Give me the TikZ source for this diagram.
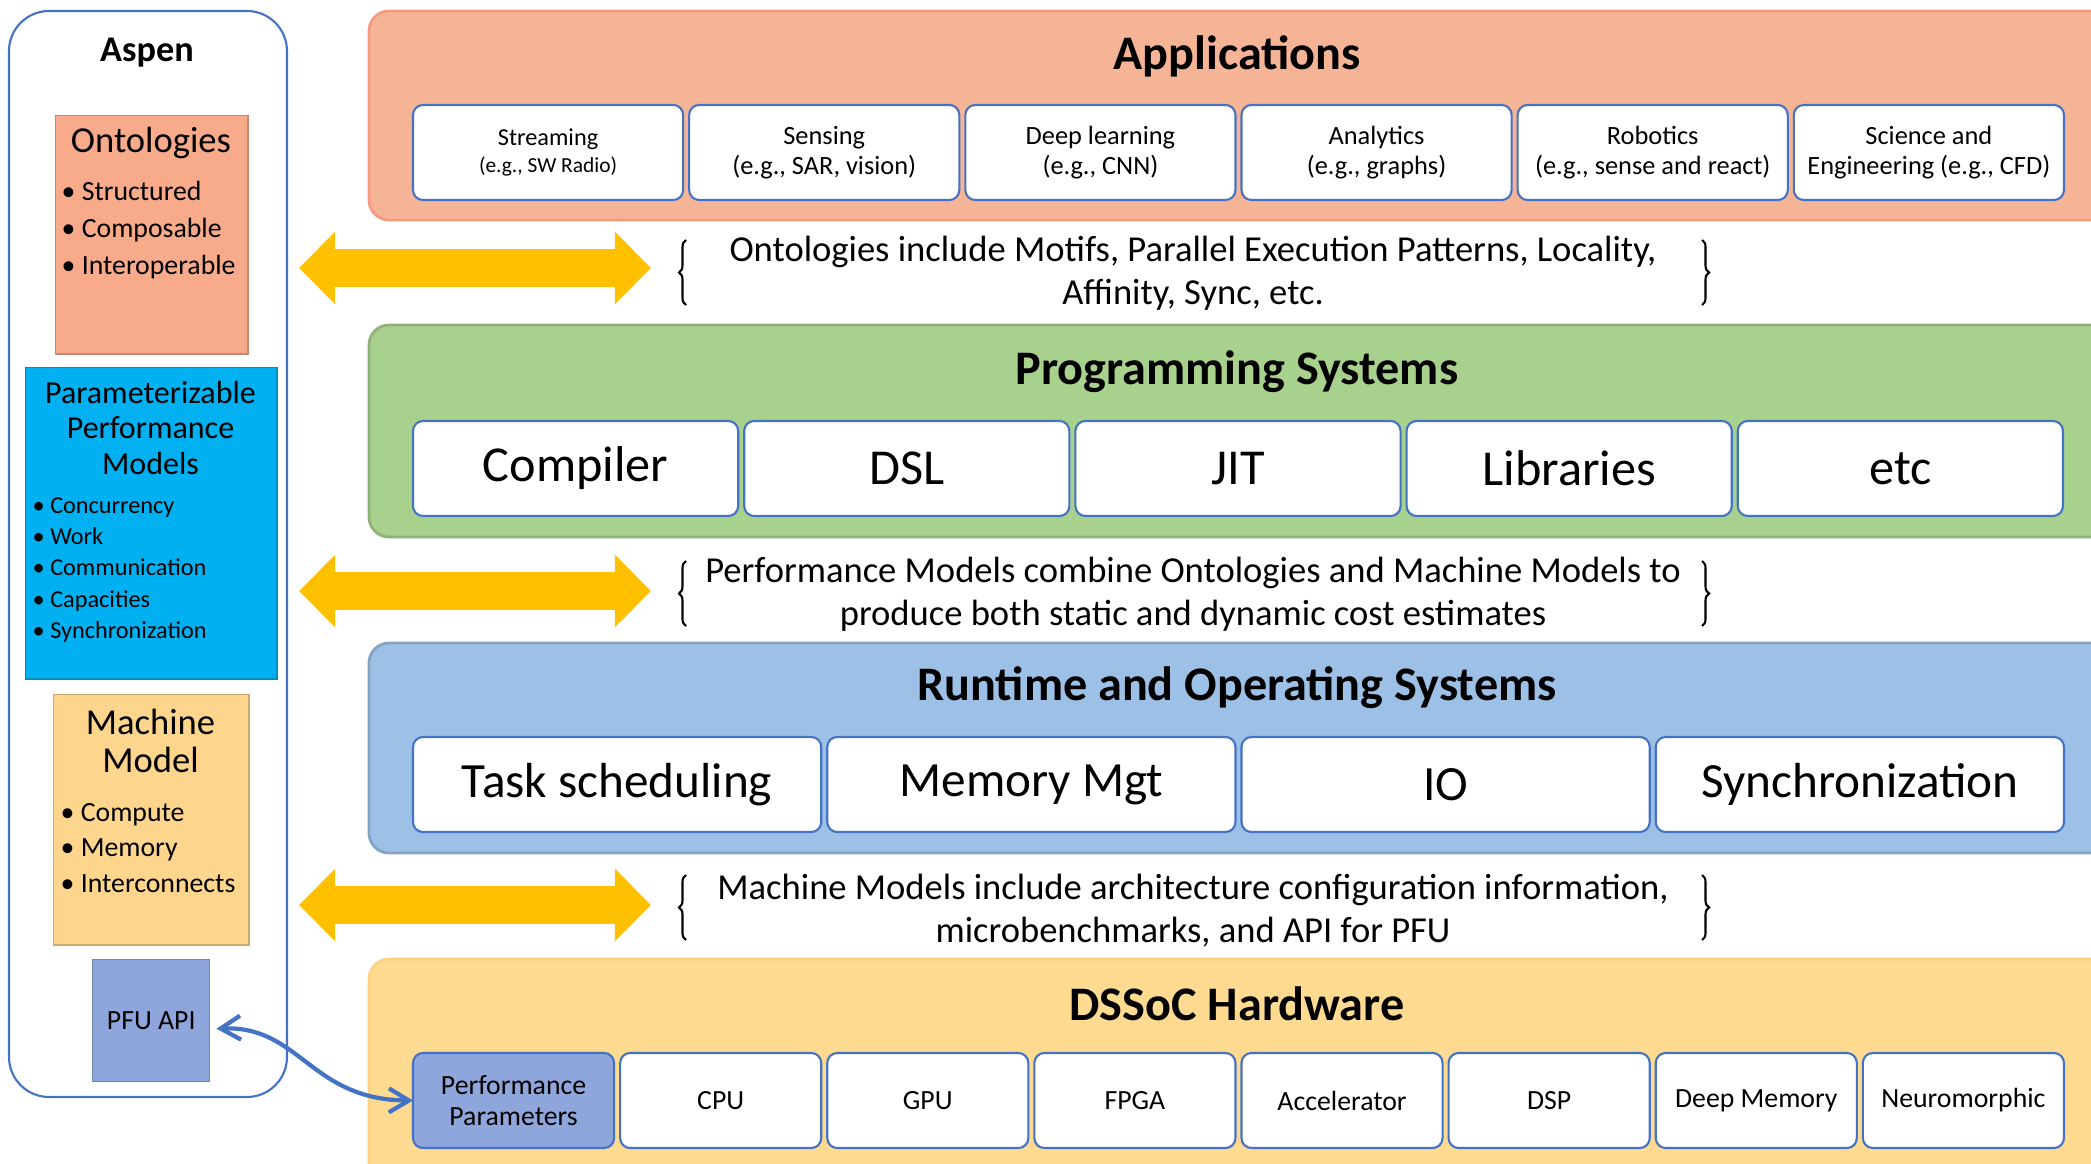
\documentclass[tikz,border=0pt]{standalone}
\usepackage{fontspec}
\setmainfont{Carlito}
\usetikzlibrary{positioning,arrows.meta,decorations.pathreplacing}
\definecolor{lineblue}{RGB}{68,114,196}
\definecolor{appfill}{RGB}{246,180,150}
\definecolor{ontofill}{RGB}{247,171,139}
\definecolor{progfill}{RGB}{169,209,142}
\definecolor{runfill}{RGB}{157,193,230}
\definecolor{hwfill}{RGB}{255,218,145}
\definecolor{paramfill}{RGB}{0,176,240}
\definecolor{machfill}{RGB}{254,213,140}
\definecolor{pfufill}{RGB}{143,166,220}
\definecolor{gold}{RGB}{255,192,0}

\begin{document}
\begin{tikzpicture}[x=0.01cm, y=-0.01cm,
    box/.style = {draw=lineblue, fill=white, rounded corners=0.1cm, line width=0.6pt, outer sep=0pt, minimum height=0.95cm, inner sep=1pt, align=center},
    appbox/.style = {box, minimum width=2.70cm, font=\fontsize{7.5}{8.6}\selectfont},
    progbox/.style = {box, minimum width=3.25cm, font=\fontsize{14.3}{16}\selectfont},
    runbox/.style = {box, minimum width=4.08cm, font=\fontsize{14}{16}\selectfont},
    hwbox/.style = {box, minimum width=2.01cm, font=\fontsize{7.9}{8.8}\selectfont},
    layer/.style = {rounded corners=0.2cm, line width=0.8pt},
    heading/.style = {font=\fontsize{13.7}{16}\selectfont\bfseries},
    note/.style = {align=center, font=\fontsize{10.4}{12.2}\selectfont},
    sidebox/.style = {anchor=north west, inner sep=0pt, line width=0.4pt},
    sidetitle/.style = {align=center, font=\fontsize{10.4}{10.8}\selectfont},
    bullets/.style = {anchor=west, align=left, inner sep=0pt},
    bigarrow/.style = {draw=gold, line width=0.37cm, {Triangle[width=0.70cm,length=0.36cm]}-{Triangle[width=0.70cm,length=0.36cm]}},
    curly/.style = {decorate, decoration={brace, amplitude=0.07cm}, line width=0.6pt},
    link/.style = {draw=lineblue, line width=1.2pt, {Straight Barb[length=0.2cm,width=0.24cm]}-{Straight Barb[length=0.2cm,width=0.24cm]}}]
    \useasboundingbox (0,0) rectangle (2091,1164);
    \clip (0,0) rectangle (2091,1164);
    \fill[white] (0,0) rectangle (2091,1164);

    \draw[layer, fill=appfill, draw=appfill!85!red] (369,11) rectangle (2140,220);
    \draw[layer, fill=progfill, draw=progfill!85!black] (369,325) rectangle (2140,537);
    \draw[layer, fill=runfill, draw=runfill!85!black] (369,643) rectangle (2140,853);
    \draw[layer, fill=hwfill, draw=hwfill!90!orange] (369,959) rectangle (2140,1200);

    \node[heading] (apptitle) at (1237,56) {Applications};
    \node[heading] (progtitle) at (1237,372) {Programming Systems};
    \node[heading] (runtitle) at (1237,688) {Runtime and Operating Systems};
    \node[heading] (hwtitle) at (1237,1004) {DSSoC Hardware};

    \node[appbox, anchor=west, font=\fontsize{6.9}{7.6}\selectfont] (strm) at (413,152.5) {Streaming\\{\fontsize{6.1}{7}\selectfont(e.g., SW Radio)}};
    \node[appbox] (sens) [right=0.06cm of strm] {Sensing\\(e.g., SAR, vision)};
    \node[appbox] (deep) [right=0.06cm of sens] {Deep learning\\(e.g., CNN)};
    \node[appbox] (anly) [right=0.06cm of deep] {Analytics\\(e.g., graphs)};
    \node[appbox] (robo) [right=0.06cm of anly] {Robotics\\(e.g., sense and react)};
    \node[appbox] (sci) [right=0.06cm of robo] {Science and\\Engineering (e.g., CFD)};

    \node[progbox, anchor=west] (comp) at (413,468.5) {Compiler};
    \node[progbox] (dsl) [right=0.06cm of comp] {DSL};
    \node[progbox] (jit) [right=0.06cm of dsl] {JIT};
    \node[progbox] (libs) [right=0.06cm of jit] {Libraries};
    \node[progbox] (etc) [right=0.06cm of libs] {etc};

    \node[runbox, anchor=west] (task) at (413,784.5) {Task scheduling};
    \node[runbox] (mem) [right=0.06cm of task] {Memory Mgt};
    \node[runbox] (io) [right=0.06cm of mem] {IO};
    \node[runbox] (sync) [right=0.06cm of io] {Synchronization};

    \node[hwbox, anchor=west, fill=pfufill] (perf) at (413,1100.5) {Performance\\Parameters};
    \node[hwbox] (cpu) [right=0.06cm of perf] {CPU};
    \node[hwbox] (gpu) [right=0.06cm of cpu] {GPU};
    \node[hwbox] (fpga) [right=0.06cm of gpu] {FPGA};
    \node[hwbox] (accel) [right=0.06cm of fpga] {Accelerator};
    \node[hwbox] (dsp) [right=0.06cm of accel] {DSP};
    \node[hwbox] (dmem) [right=0.06cm of dsp] {Deep Memory};
    \node[hwbox] (neuro) [right=0.06cm of dmem] {Neuromorphic};

    \draw[lineblue, line width=0.6pt, rounded corners=0.4cm] (9,11) rectangle (287,1097);
    \node[font=\fontsize{10.3}{12}\selectfont\bfseries] (aspen) at (147,53) {Aspen};

    \node[sidebox, fill=ontofill, draw=ontofill!80!black, minimum width=1.92cm, minimum height=2.38cm] (onto) at (55,115) {};
    \node[sidetitle] (ontotitle) at (151,143) {Ontologies};
    \node[bullets, font=\fontsize{7.9}{10.5}\selectfont] (ontolist) at (61,230) {• Structured\\• Composable\\• Interoperable};

    \node[sidebox, fill=paramfill, draw=paramfill!80!black, minimum width=2.51cm, minimum height=3.11cm] (param) at (25,367) {};
    \node[sidetitle, font=\fontsize{9.1}{10}\selectfont] (paramtitle) at (150.5,428) {Parameterizable\\Performance\\Models};
    \node[bullets, font=\fontsize{6.9}{8.9}\selectfont] (paramlist) at (32,570) {• Concurrency\\• Work\\• Communication\\• Capacities\\• Synchronization};

    \node[sidebox, fill=machfill, draw=machfill!80!black, minimum width=1.95cm, minimum height=2.50cm] (mach) at (53,694) {};
    \node[sidetitle] (machtitle) at (150.5,741) {Machine\\Model};
    \node[bullets, font=\fontsize{7.9}{10.2}\selectfont] (machlist) at (60,848) {• Compute\\• Memory\\• Interconnects};

    \node[sidebox, fill=pfufill, draw=pfufill!80!black, minimum width=1.17cm, minimum height=1.22cm, font=\fontsize{7.9}{9}\selectfont] (pfu) at (92,959) {PFU API};

    \coordinate (ya1) at (299,268);
    \coordinate (yb1) at (651,268);
    \coordinate (ya2) at (299,591);
    \coordinate (yb2) at (651,591);
    \coordinate (ya3) at (299,905);
    \coordinate (yb3) at (651,905);
    \draw[bigarrow] (ya1) -- (yb1);
    \draw[bigarrow] (ya2) -- (yb2);
    \draw[bigarrow] (ya3) -- (yb3);

    \node[note] (note1) at (1193,273.5) {Ontologies include Motifs, Parallel Execution Patterns, Locality,\\Affinity, Sync, etc.};
    \node[note] (note2) at (1193,594.5) {Performance Models combine Ontologies and Machine Models to\\produce both static and dynamic cost estimates};
    \node[note] (note3) at (1193,910.5) {Machine Models include architecture configuration information,\\microbenchmarks, and API for PFU};

    \draw[curly] (686,305) -- (686,240);
    \draw[curly] (1702,240) -- (1702,305);
    \draw[curly] (686,626) -- (686,561);
    \draw[curly] (1702,561) -- (1702,626);
    \draw[curly] (686,940) -- (686,875);
    \draw[curly] (1702,875) -- (1702,940);

    \draw[link] ([xshift=0.06cm,yshift=-0.08cm]pfu.east) .. controls (300,1025) and (310,1100) .. (perf.west);
\end{tikzpicture}
\end{document}
